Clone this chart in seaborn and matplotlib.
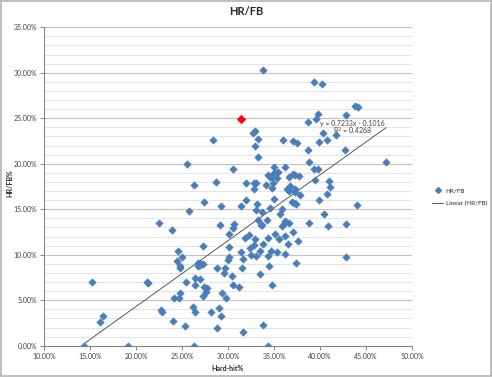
import numpy as np
import pandas as pd
import matplotlib
matplotlib.use("Agg")
import matplotlib.pyplot as plt
from matplotlib.ticker import MultipleLocator, FuncFormatter
from matplotlib.lines import Line2D
import seaborn as sns

# Hard-hit% and HR/FB values (percent)
hard_hit = [
    33.83, 39.39, 40.18, 43.84, 44.08, 39.75, 42.86, 39.53, 38.67, 40.29,
    32.96, 32.74, 28.36, 33.29, 36.00, 37.04, 37.47, 40.77, 41.78, 39.86,
    32.89, 38.74, 42.68, 33.29, 38.85, 47.17, 30.53, 34.98, 36.21, 39.37,
    39.75, 34.33, 34.54, 34.73, 34.95, 35.16, 35.41, 35.30, 36.68, 37.04,
    37.33, 37.71, 39.48, 40.99, 25.54, 26.34, 28.69, 31.98, 32.80, 33.07,
    34.08, 34.87, 36.79, 32.78, 34.76, 36.43, 36.59, 37.26, 37.30, 41.10,
    37.85, 40.77, 27.35, 29.27, 31.98, 31.44, 33.18, 34.98, 33.07, 33.68,
    34.54, 35.89, 35.67, 37.01, 37.22, 37.41, 39.86, 40.45, 43.98, 25.76,
    22.47, 23.96, 29.17, 33.21, 33.61, 33.72, 34.19, 36.21, 36.21, 36.68,
    35.89, 38.85, 40.91, 42.79, 30.68, 30.58, 30.07, 31.80, 32.27, 32.96,
    35.09, 34.40, 35.49, 36.21, 37.08, 37.58, 36.54, 33.75, 32.78, 32.38,
    31.37, 33.46, 34.65, 35.38, 36.21, 27.25, 30.07, 32.45, 33.07, 34.40,
    30.10, 29.96, 31.66, 42.79, 37.37, 27.03, 27.28, 28.80, 29.71, 29.60,
    31.48, 34.48, 33.50, 30.39, 26.92, 27.35, 27.68, 27.57, 30.58, 31.23,
    34.76, 27.32, 29.38, 29.74, 29.06, 28.19, 29.20, 33.75, 28.84, 31.58,
    34.30, 24.57, 24.97, 24.46, 24.75, 24.75, 26.78, 26.92, 26.74, 15.17,
    21.20, 21.31, 25.48, 26.45, 26.45, 24.75, 24.18, 24.68, 26.19, 26.38,
    22.69, 22.80, 24.07, 25.29, 16.40, 16.07, 14.37, 19.08, 26.30,
]
hr_fb = [
    30.26, 28.98, 28.76, 26.34, 26.18, 25.48, 25.35, 24.91, 24.55, 23.37,
    23.56, 23.41, 22.57, 22.75, 22.64, 22.46, 22.31, 22.57, 23.12, 22.35,
    21.95, 21.54, 21.54, 20.74, 20.24, 20.24, 19.38, 19.64, 19.64, 19.40,
    19.40, 18.76, 18.57, 18.54, 18.95, 19.01, 19.05, 18.43, 18.54, 18.87,
    18.73, 18.70, 18.24, 18.12, 19.97, 17.66, 17.96, 17.88, 17.88, 17.88,
    17.64, 17.93, 17.55, 17.25, 17.31, 17.19, 16.95, 17.20, 16.89, 17.44,
    16.59, 16.62, 15.76, 15.35, 15.96, 15.35, 15.54, 16.12, 14.95, 14.69,
    15.13, 15.05, 14.47, 15.76, 15.65, 15.54, 16.01, 14.47, 15.44, 14.84,
    13.45, 12.71, 13.23, 13.78, 13.23, 13.23, 13.78, 13.74, 13.52, 13.52,
    13.15, 13.45, 13.15, 13.34, 13.41, 12.93, 12.24, 11.80, 12.13, 11.73,
    12.27, 11.80, 11.73, 12.02, 12.46, 11.54, 11.21, 11.21, 11.03, 10.74,
    10.26, 10.37, 10.37, 10.26, 10.04, 10.96, 10.82, 9.93, 9.82, 9.82,
    9.71, 9.45, 9.53, 9.71, 9.12, 8.95, 8.95, 8.51, 8.54, 8.02,
    8.51, 8.73, 7.91, 7.69, 7.33, 6.42, 6.31, 5.90, 6.64, 6.42,
    6.64, 5.46, 5.82, 5.24, 4.18, 3.70, 3.23, 2.31, 1.95, 1.51,
    0.00, 10.41, 9.71, 9.34, 8.73, 8.51, 9.05, 8.84, 8.73, 7.03,
    7.03, 6.92, 7.03, 7.47, 6.64, 5.82, 5.24, 5.24, 4.22, 3.70,
    3.96, 3.70, 2.75, 2.13, 3.23, 2.64, 0.00, 0.00, 0.00,
]

# highlighted player
highlight_x = [31.44]
highlight_y = [24.91]

# trendline shown on the chart
slope = 0.7233
intercept = -0.1016
r_squared = 0.4268

df = pd.DataFrame({"Hard-hit%": hard_hit, "HR/FB": hr_fb})
hl = pd.DataFrame({"Hard-hit%": highlight_x, "HR/FB": highlight_y})

sns.set_style("white")
plt.rcParams["font.family"] = ["Lato", "DejaVu Sans"]

blue = "#4a7ebb"

fig = plt.figure(figsize=(4.92, 3.77), dpi=100)
fig.patch.set_edgecolor("#bfbfbf")
fig.patch.set_linewidth(1.5)
ax = fig.add_axes([44 / 492, 31.3 / 377, 368 / 492, 318.5 / 377])

# gridlines: light every 1 %, darker every 5 %
ax.yaxis.set_minor_locator(MultipleLocator(1))
ax.yaxis.set_major_locator(MultipleLocator(5))
ax.grid(which="minor", axis="y", color="#e4e4e4", lw=0.8)
ax.grid(which="major", axis="y", color="#c0c0c0", lw=0.8)
ax.set_axisbelow(True)

sns.scatterplot(data=df, x="Hard-hit%", y="HR/FB", marker="D", s=15,
                color=blue, edgecolor=blue, linewidth=0.3, ax=ax, zorder=3)
sns.scatterplot(data=hl, x="Hard-hit%", y="HR/FB", marker="D", s=20,
                color="#ff0000", edgecolor="#ff0000", linewidth=0.3, ax=ax, zorder=4)

# linear trendline across the data range
xs = np.array([min(hard_hit), max(hard_hit)])
ys = (slope * xs / 100 + intercept) * 100
sns.lineplot(x=xs, y=ys, color="#595959", lw=0.7, ax=ax, zorder=2)

ax.text(43.5, 24.45, f"y = {slope}x - {abs(intercept)}",
        fontsize=5, ha="center", va="center", color="#404040")
ax.text(43.5, 23.55, f"R$^2$ = {r_squared}", fontsize=5, ha="center",
        va="center", color="#404040")

ax.set_xlim(10, 50)
ax.set_ylim(0, 35)
ax.xaxis.set_major_locator(MultipleLocator(5))
fmt = FuncFormatter(lambda v, p: f"{v:.2f}%")
ax.xaxis.set_major_formatter(fmt)
ax.yaxis.set_major_formatter(fmt)
ax.tick_params(axis="both", which="major", labelsize=5, length=3,
               color="#868686", width=0.7, colors="#404040", pad=2)
ax.tick_params(axis="y", which="minor", length=0)
ax.tick_params(axis="both", direction="out", bottom=True, left=True)

for side in ["top", "right"]:
    ax.spines[side].set_visible(False)
for side in ["left", "bottom"]:
    ax.spines[side].set_color("#868686")
    ax.spines[side].set_linewidth(0.8)

ax.set_xlabel("Hard-hit%", fontsize=5, fontweight="bold", color="#262626")
ax.set_ylabel("HR/FB%", fontsize=5, fontweight="bold", color="#262626")
ax.xaxis.set_label_coords(0.5, -0.062)
ax.yaxis.set_label_coords(-0.082, 0.51)
fig.suptitle("HR/FB", x=0.5, y=0.985, fontsize=8, fontweight="bold", color="#262626")

handles = [
    Line2D([], [], marker="D", ls="none", color=blue, markersize=3),
    Line2D([], [], color="#595959", lw=0.7),
]
fig.legend(handles, ["HR/FB", "Linear (HR/FB)"], loc="center left",
           bbox_to_anchor=(0.878, 0.477), frameon=False, fontsize=4.5,
           handlelength=1.8, labelspacing=1.3, handletextpad=0.4,
           borderaxespad=0, borderpad=0)

fig.savefig("out.png", dpi=100)
